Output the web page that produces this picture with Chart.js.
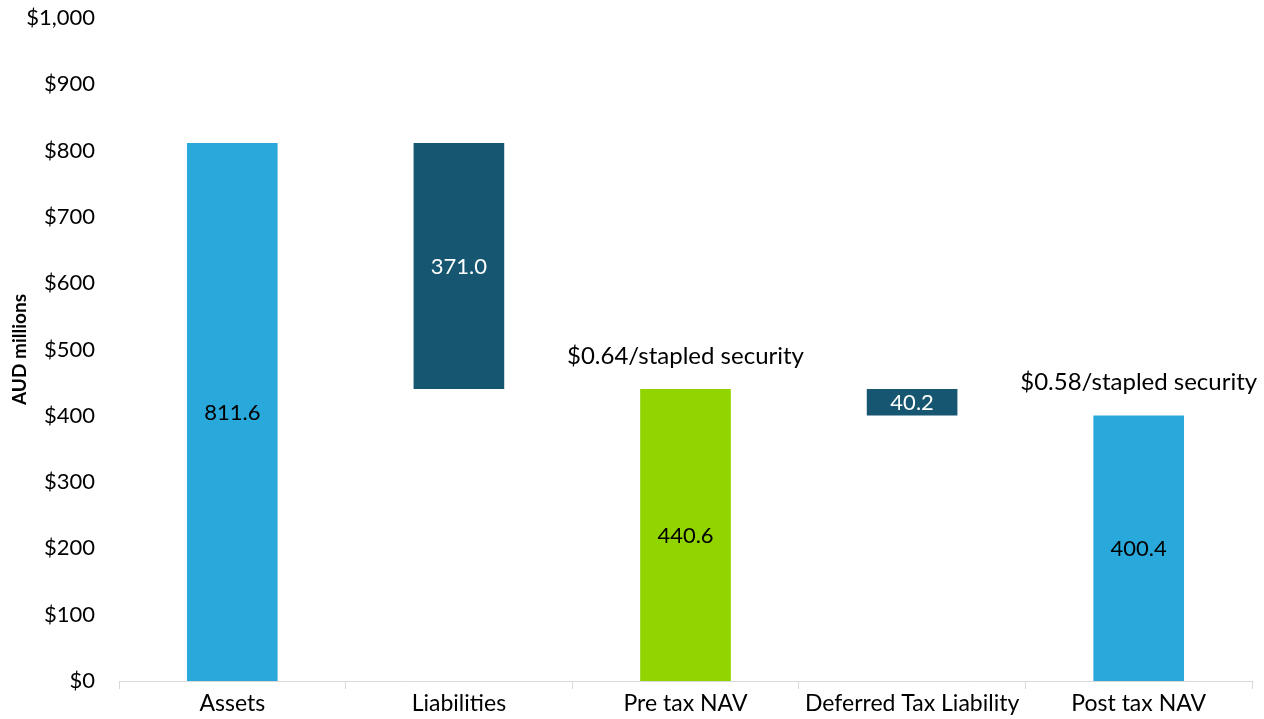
<!DOCTYPE html>
<html>
<head>
<meta charset="utf-8">
<script src="https://cdn.jsdelivr.net/npm/chart.js@4.4.1/dist/chart.umd.min.js"></script>
<style>
  html, body { margin:0; padding:0; background:#fff; }
  #wrap { width:1264px; height:719px; }
</style>
</head>
<body>
<div id="wrap"><canvas id="navChart" width="1264" height="719"></canvas></div>
<script>
// waterfall data (AUD millions)
const categories = ['Assets', 'Liabilities', 'Pre tax NAV', 'Deferred Tax Liability', 'Post tax NAV'];
const barStart   = [0, 440.6, 0, 400.4, 0];
const barEnd     = [811.6, 811.6, 440.6, 440.6, 400.4];
const barLabels  = ['811.6', '371.0', '440.6', '40.2', '400.4'];
const barNotes   = ['', '', '$0.64/stapled security', '', '$0.58/stapled security'];
const barColors  = ['#29a9db', '#175670', '#92d400', '#175670', '#29a9db'];
const labelColors = ['#000', '#fff', '#000', '#fff', '#000'];
const yTicks = [0, 100, 200, 300, 400, 500, 600, 700, 800, 900, 1000];

const FONT = 'Lato, "Open Sans", sans-serif';

const barText = {
  id: 'barText',
  afterDatasetsDraw(chart) {
    const ctx = chart.ctx, meta = chart.getDatasetMeta(0), y = chart.scales.y;
    ctx.save();
    ctx.textAlign = 'center';
    ctx.textBaseline = 'middle';
    meta.data.forEach(function(bar, i) {
      const mid = y.getPixelForValue((barStart[i] + barEnd[i]) / 2);
      ctx.font = '22px ' + FONT;
      ctx.fillStyle = labelColors[i];
      ctx.fillText(barLabels[i], bar.x, mid + 1);
      if (barNotes[i]) {
        ctx.font = '24px ' + FONT;
        ctx.fillStyle = '#000';
        ctx.fillText(barNotes[i], bar.x, y.getPixelForValue(barEnd[i]) - 33);
      }
    });
    ctx.restore();
  }
};

new Chart(document.getElementById('navChart'), {
  type: 'bar',
  data: {
    labels: categories,
    datasets: [{
      data: categories.map(function(c, i) { return [barStart[i], barEnd[i]]; }),
      backgroundColor: barColors,
      borderWidth: 0,
      categoryPercentage: 1,
      barPercentage: 0.4
    }]
  },
  options: {
    responsive: false,
    animation: false,
    layout: { padding: { top: 18, right: 12, left: 8, bottom: 0 } },
    plugins: { legend: { display: false }, tooltip: { enabled: false } },
    scales: {
      x: {
        grid: { offset: true, drawOnChartArea: false, color: '#d9d9d9', tickLength: 8, lineWidth: 1 },
        border: { color: '#d9d9d9' },
        ticks: { color: '#000', font: { family: FONT, size: 23 }, padding: 1, maxRotation: 0 },
        afterFit: function(s) { s.height = 38; }
      },
      y: {
        min: 0, max: 1000,
        afterBuildTicks: function(s) { s.ticks = yTicks.map(function(v) { return { value: v }; }); },
        grid: { display: false },
        border: { display: false },
        ticks: {
          color: '#000', font: { family: FONT, size: 22 }, padding: 16,
          callback: function(v) { return '$' + v.toLocaleString('en-US'); }
        },
        title: { display: true, text: 'AUD millions', color: '#000', font: { family: FONT, size: 19, weight: 'bold' }, padding: 0 },
        afterFit: function(s) { s.width = 111; s.paddingTop = 0; s.paddingBottom = 0; }
      }
    }
  },
  plugins: [barText]
});
</script>
</body>
</html>
